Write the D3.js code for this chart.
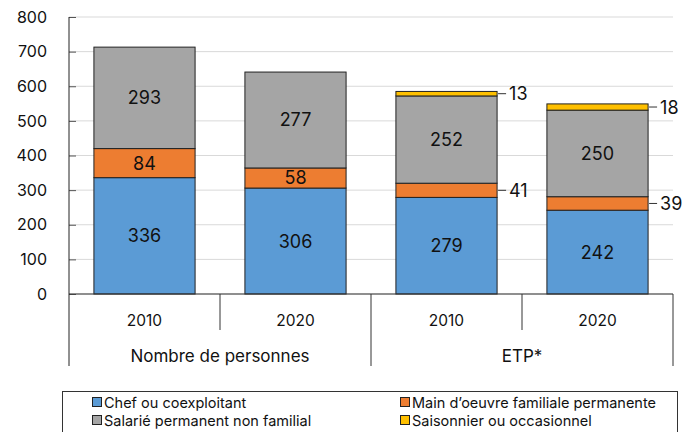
<!DOCTYPE html>
<html>
<head>
<meta charset="utf-8">
<script src="https://cdn.jsdelivr.net/npm/d3@7"></script>
<style>
  body { margin: 0; background: #fff; }
  text { font-family: Inter, "Noto Sans", sans-serif; fill: #111; }
</style>
</head>
<body>
<div id="chart"></div>
<script>
// data
var groups = ["Nombre de personnes", "ETP*"];
var years = ["2010", "2020", "2010", "2020"];
var seriesNames = ["Chef ou coexploitant", "Main d\u2019oeuvre familiale permanente",
                   "Salarié permanent non familial", "Saisonnier ou occasionnel"];
var chef = [336, 306, 279, 242];
var mainOeuvre = [84, 58, 41, 39];
var salarie = [293, 277, 252, 250];
var saisonnier = [0, 0, 13, 18];
var yTicks = [0, 100, 200, 300, 400, 500, 600, 700, 800];
var colors = ["#5B9BD5", "#ED7D31", "#A5A5A5", "#FFC000"];

var width = 687, height = 432;
var margin = {top: 17, right: 14, bottom: 138, left: 69};
var w = width - margin.left - margin.right,
    h = height - margin.top - margin.bottom;

var svg = d3.select("#chart").append("svg")
    .attr("width", width)
    .attr("height", height);
var g = svg.append("g")
    .attr("transform", "translate(" + margin.left + "," + margin.top + ")");

var x = d3.scaleBand()
    .domain(d3.range(years.length))
    .range([0, w])
    .paddingInner(0.33)
    .paddingOuter(0.165);
var step = w / years.length;

var y = d3.scaleLinear()
    .domain([0, 800])
    .range([h, 0]);

// grid lines
g.selectAll(".grid")
    .data(yTicks)
    .enter().append("line")
    .attr("x1", 0).attr("x2", w)
    .attr("y1", d => y(d)).attr("y2", d => y(d))
    .style("stroke", "#d9d9d9")
    .style("stroke-width", 1);

// y axis
var yAxis = g.append("g")
    .call(d3.axisLeft(y).tickValues(yTicks).tickSize(-7));
yAxis.select(".domain").remove();
yAxis.selectAll(".tick line").style("stroke", "#555");
yAxis.selectAll("text")
    .style("font-size", "16px")
    .attr("x", -22);

// stacked data
var stackData = years.map((yr, i) => ({
    i: i, chef: chef[i], main: mainOeuvre[i], salarie: salarie[i], saison: saisonnier[i]
}));
var keys = ["chef", "main", "salarie", "saison"];
var series = d3.stack().keys(keys)(stackData);

series.forEach((s, k) => {
    g.selectAll(".bar" + k)
        .data(s.filter(d => d[1] - d[0] > 0))
        .enter().append("rect")
        .attr("x", d => x(d.data.i))
        .attr("width", x.bandwidth())
        .attr("y", d => y(d[1]))
        .attr("height", d => y(d[0]) - y(d[1]))
        .style("fill", colors[k])
        .style("stroke", "#222")
        .style("stroke-width", 1);
});

// labels inside / outside
series.forEach((s, k) => {
    s.forEach(d => {
        var v = d[1] - d[0];
        if (v <= 0) return;
        var cx = x(d.data.i) + x.bandwidth() / 2;
        var cy = y((d[0] + d[1]) / 2);
        var outside = v < 50;
        if (!outside) {
            g.append("text")
                .attr("x", cx).attr("y", cy)
                .attr("dy", "0.36em")
                .attr("text-anchor", "middle")
                .style("font-size", "18px")
                .text(v);
        } else {
            var x0 = x(d.data.i) + x.bandwidth();
            g.append("line")
                .attr("x1", x0 + 1).attr("x2", x0 + 9)
                .attr("y1", cy).attr("y2", cy)
                .style("stroke", "#333");
            g.append("text")
                .attr("x", x0 + 12).attr("y", cy)
                .attr("dy", "0.36em")
                .style("font-size", "18px")
                .text(v);
        }
    });
});

// x axis lines
g.append("line")
    .attr("x1", 0).attr("x2", w)
    .attr("y1", h).attr("y2", h)
    .style("stroke", "#333");
g.append("line")
    .attr("x1", 0).attr("x2", 0)
    .attr("y1", 0).attr("y2", h + 72)
    .style("stroke", "#222");
[2, 4].forEach(b => {
    g.append("line")
        .attr("x1", b * step).attr("x2", b * step)
        .attr("y1", h).attr("y2", h + 72)
        .style("stroke", "#333");
});
[1, 3].forEach(b => {
    g.append("line")
        .attr("x1", b * step).attr("x2", b * step)
        .attr("y1", h).attr("y2", h + 36)
        .style("stroke", "#333");
});

// year labels
g.selectAll(".year")
    .data(years)
    .enter().append("text")
    .attr("x", (d, i) => x(i) + x.bandwidth() / 2)
    .attr("y", h + 32)
    .attr("text-anchor", "middle")
    .style("font-size", "15.5px")
    .text(d => d);

// group labels
g.selectAll(".grp")
    .data(groups)
    .enter().append("text")
    .attr("x", (d, i) => (i * 2 + 1) * step)
    .attr("y", h + 68)
    .attr("text-anchor", "middle")
    .style("font-size", "17px")
    .text(d => d);

// legend
var legend = svg.append("g");
legend.append("rect")
    .attr("x", 62.5).attr("y", 391.5)
    .attr("width", 615).attr("height", 50)
    .style("fill", "none")
    .style("stroke", "#333");
var legX = [92, 400], legY = [403, 421];
seriesNames.forEach((name, k) => {
    var lx = legX[k % 2], ly = legY[Math.floor(k / 2)];
    legend.append("rect")
        .attr("x", lx + 0.5).attr("y", ly - 5.5)
        .attr("width", 9).attr("height", 9)
        .style("fill", colors[k])
        .style("stroke", "#222");
    legend.append("text")
        .attr("x", lx + 12).attr("y", ly)
        .attr("dy", "0.35em")
        .style("font-size", "14.5px")
        .text(name);
});
</script>
</body>
</html>
